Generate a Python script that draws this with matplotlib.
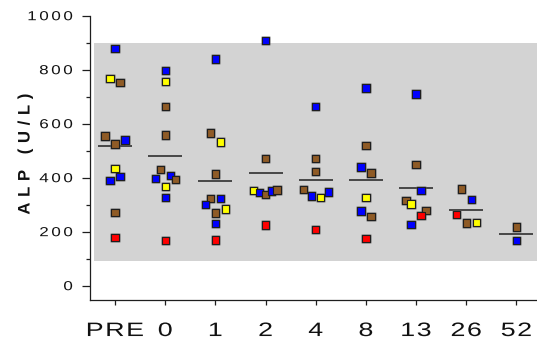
import matplotlib
matplotlib.use("Agg")
import matplotlib.pyplot as plt
import matplotlib.patheffects as pe
from matplotlib.patheffects import AbstractPathEffect
from matplotlib.path import Path
from matplotlib.font_manager import findfont, get_font
from matplotlib.textpath import text_to_path
from bisect import bisect_right
import numpy as np

# ALP (U/L) per sampling time; cohort codes: B blue, Y yellow, N brown, R red
timepoints = ["PRE", "0", "1", "2", "4", "8", "13", "26", "52"]
alp = [
    [879, 768, 753, 554, 540, 525, 435, 404, 389, 272, 179],
    [798, 757, 664, 558, 431, 409, 396, 393, 368, 327, 167],
    [840, 566, 532, 414, 324, 324, 301, 284, 269, 231, 169],
    [909, 470, 353, 346, 338, 351, 354, 225],
    [664, 470, 422, 357, 347, 332, 326, 209],
    [732, 519, 440, 417, 327, 277, 256, 174],
    [710, 450, 353, 316, 302, 279, 259, 227],
    [358, 320, 264, 233, 232],
    [217, 167],
]
cohort = [
    "BYNNBNYBBNR",
    "BYNNNBBNYBR",
    "BNYNNBBYNBR",
    "BNYBNBNR",
    "BNNNBBYR",
    "BNBNYBNR",
    "BNBNYNRB",
    "NBRYN",
    "NB",
]
# horizontal spread of overlapping points, in category widths
jitter = [
    [0, -0.1, 0.1, -0.2, 0.2, 0, 0, 0.1, -0.1, 0, 0],
    [0, 0, 0, 0, -0.1, 0.1, -0.2, 0.2, 0, 0, 0],
    [0, -0.1, 0.1, 0, -0.1, 0.1, -0.2, 0.2, 0, 0, 0],
    [0, 0, -0.24, -0.12, 0, 0.12, 0.23, 0],
    [0, 0, 0, -0.25, 0.25, -0.08, 0.09, 0],
    [0, 0, -0.1, 0.1, 0, -0.1, 0.1, 0],
    [0, 0, 0.1, -0.2, -0.1, 0.2, 0.1, -0.1],
    [-0.1, 0.1, -0.2, 0.2, 0],
    [0, 0],
]
reference_range = (90, 900)

cohort_colors = {"B": "#0000FF", "Y": "#FFFF00", "N": "#8F5B26", "R": "#FF0000"}
INK = "#1e1e1e"
FONT = "Liberation Sans"


class Tracked(AbstractPathEffect):
    """Draws a text with extra letter spacing (in em) and optional glyph widening."""

    def __init__(self, text, spacing=0.0, widen=1.0, anchor=0.5):
        super().__init__()
        self._text = text
        self._spacing = spacing
        self._widen = widen
        self._anchor = anchor

    def draw_path(self, renderer, gc, tpath, affine, rgbFace=None):
        verts = np.array(tpath.vertices, dtype=float)
        codes = tpath.codes
        if len(verts) == 0 or codes is None:
            renderer.draw_path(gc, tpath, affine, rgbFace)
            return
        font = get_font(findfont(self._text.get_fontproperties()))
        font.set_size(text_to_path.FONT_SCALE, text_to_path.DPI)
        glyphs, _, _ = text_to_path.get_glyphs_with_font(font, self._text.get_text())
        pen = [g[1] for g in glyphs]
        em = text_to_path.FONT_SCALE
        real = codes != Path.CLOSEPOLY
        x0, x1 = verts[real, 0].min(), verts[real, 0].max()
        starts = list(np.flatnonzero(codes == Path.MOVETO)) + [len(codes)]
        for a, b in zip(starts[:-1], starts[1:]):
            m = real[a:b]
            xs = verts[a:b][m, 0]
            cx = 0.5 * (xs.min() + xs.max())
            i = max(0, min(len(pen) - 1, bisect_right(pen, cx) - 1))
            verts[a:b, 0] = verts[a:b, 0] * self._widen + i * self._spacing * em
        n0, n1 = verts[real, 0].min(), verts[real, 0].max()
        shift = (x0 + self._anchor * (x1 - x0)) - (n0 + self._anchor * (n1 - n0))
        verts[:, 0] += shift
        renderer.draw_path(gc, Path(verts, codes), affine, rgbFace)


fig = plt.figure(figsize=(5.37, 3.51), dpi=100)
W, H = 537, 351
ax = fig.add_axes([90 / W, (H - 299.7) / H, (W - 90) / W, (299.7 - 15.7) / H])

ax.set_xlim(-0.5, 8.41)
ax.set_ylim(-52, 1000)

ax.axhspan(*reference_range, xmin=0.0096, xmax=1, color="#D3D3D3", lw=0, zorder=0)

for i, (vals, grp, jit) in enumerate(zip(alp, cohort, jitter)):
    xs = [i + j for j in jit]
    cols = [cohort_colors[g] for g in grp]
    ax.hlines(np.mean(vals), i - 0.34, i + 0.34, color="#3c3c3c", lw=1.3, zorder=2)
    sc = ax.scatter(xs, vals, marker="s", s=28, c=cols, edgecolors=INK,
                    linewidths=0.8, zorder=3)
    sc.set_path_effects([pe.Stroke(linewidth=2.0, foreground=(0.35, 0.35, 0.35, 0.45)),
                         pe.Normal()])

for side in ("top", "right"):
    ax.spines[side].set_visible(False)
for side in ("left", "bottom"):
    ax.spines[side].set_color(INK)
    ax.spines[side].set_linewidth(0.9)

ax.set_yticks(np.arange(0, 1001, 200))
ax.set_yticks(np.arange(100, 1000, 200), minor=True)
ax.set_xticks(range(len(timepoints)), timepoints)
ax.tick_params(axis="y", which="major", length=5.5, width=0.9, color=INK, pad=7)
ax.tick_params(axis="y", which="minor", length=3.1, width=0.9, color=INK)
ax.tick_params(axis="x", length=3.8, width=0.9, color=INK, pad=13)

for lbl in ax.get_yticklabels():
    lbl.set_fontfamily(FONT)
    lbl.set_fontsize(9.4)
    lbl.set_color("#111111")
    lbl.set_path_effects([Tracked(lbl, spacing=0.2, widen=1.3, anchor=1.0)])
for lbl in ax.get_xticklabels():
    lbl.set_fontfamily(FONT)
    lbl.set_fontsize(14)
    lbl.set_color("#111111")
    lbl.set_path_effects([Tracked(lbl, spacing=0.08, widen=1.38, anchor=0.5)])

ylab = ax.set_ylabel("ALP (U/L)", fontfamily=FONT, fontsize=12, fontweight="bold",
                     color="#111111")
ax.yaxis.set_label_coords((32.5 - 90) / 447, (299.7 - 154) / 284)
ylab.set_path_effects([Tracked(ylab, spacing=0.34, widen=1.0, anchor=0.5)])

fig.savefig("out.png", dpi=100, facecolor="white")
